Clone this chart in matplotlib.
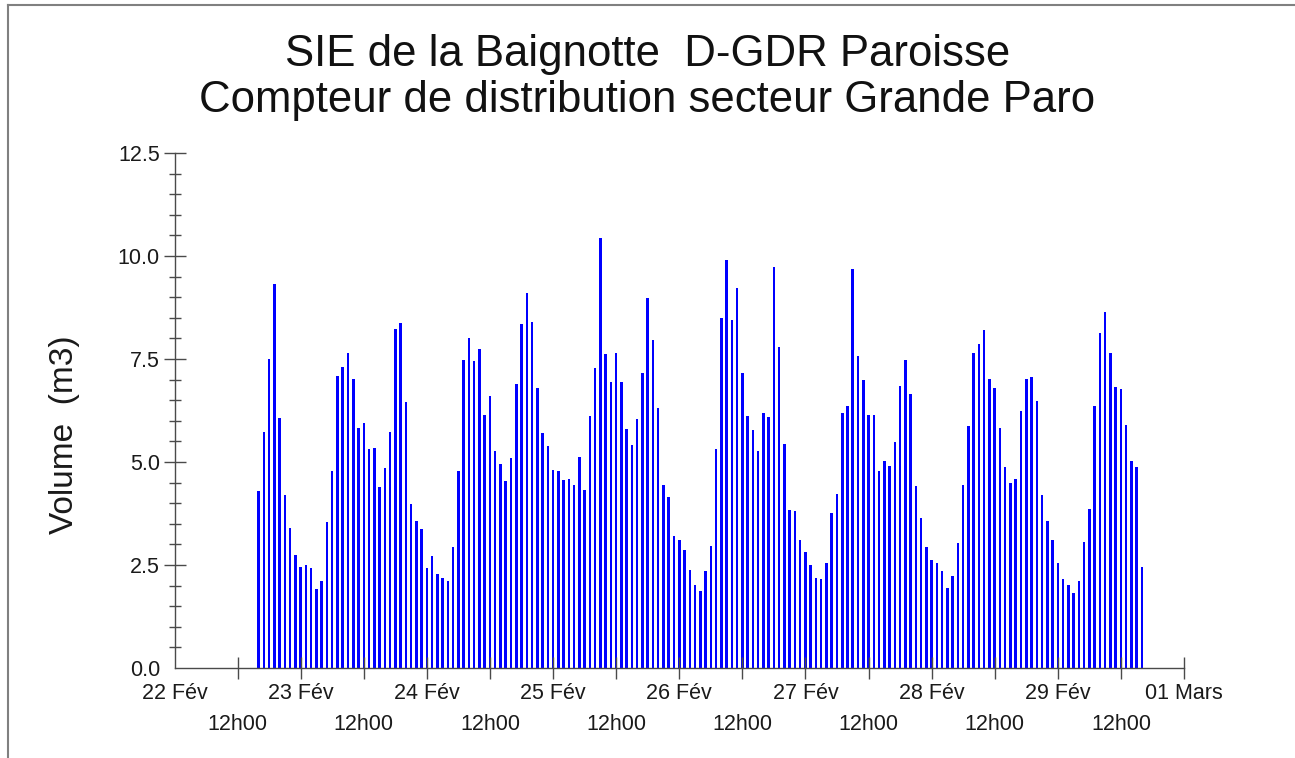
import numpy as np
import pandas as pd
import matplotlib
matplotlib.use("Agg")
import matplotlib.pyplot as plt
from matplotlib.lines import Line2D

plt.rcParams['font.family'] = ['Liberation Sans', 'DejaVu Sans']

# ---- data ----
title_line1 = "SIE de la Baignotte  D-GDR Paroisse"
title_line2 = "Compteur de distribution secteur Grande Paro"
y_label = "Volume  (m3)"

start_time = "2024-02-22 16:00"
volumes = [
    # 22 Feb 16h-23h
    4.30, 5.74, 7.50, 9.32, 6.06, 4.19, 3.39, 2.74,
    # 23 Feb
    2.44, 2.51, 2.42, 1.91, 2.11, 3.54, 4.77, 7.09, 7.30, 7.64, 7.01, 5.83,
    5.95, 5.31, 5.33, 4.40, 4.85, 5.74, 8.24, 8.38, 6.45, 3.97, 3.58, 3.37,
    # 24 Feb
    2.42, 2.72, 2.28, 2.18, 2.11, 2.93, 4.77, 7.48, 8.02, 7.44, 7.74, 6.15,
    6.59, 5.27, 4.94, 4.54, 5.09, 6.89, 8.34, 9.11, 8.41, 6.80, 5.70, 5.38,
    # 25 Feb
    4.80, 4.77, 4.56, 4.59, 4.43, 5.12, 4.31, 6.12, 7.27, 10.44, 7.61, 6.93,
    7.64, 6.93, 5.79, 5.42, 6.05, 7.15, 8.97, 7.97, 6.30, 4.44, 4.14, 3.21,
    # 26 Feb
    3.11, 2.86, 2.37, 2.01, 1.88, 2.35, 2.97, 5.31, 8.50, 9.90, 8.44, 9.22,
    7.15, 6.12, 5.78, 5.27, 6.19, 6.10, 9.74, 7.78, 5.44, 3.83, 3.81, 3.11,
    # 27 Feb
    2.82, 2.51, 2.18, 2.16, 2.54, 3.77, 4.22, 6.18, 6.36, 9.69, 7.57, 6.98,
    6.15, 6.15, 4.77, 5.03, 4.91, 5.48, 6.85, 7.48, 6.64, 4.42, 3.63, 2.93,
    # 28 Feb
    2.63, 2.56, 2.35, 1.93, 2.23, 3.03, 4.44, 5.87, 7.64, 7.86, 8.20, 7.01,
    6.80, 5.82, 4.89, 4.49, 4.59, 6.24, 7.01, 7.06, 6.47, 4.19, 3.56, 3.11,
    # 29 Feb 00h-16h
    2.56, 2.16, 2.02, 1.81, 2.11, 3.05, 3.86, 6.35, 8.12, 8.64, 7.65, 6.82,
    6.77, 5.91, 5.03, 4.89, 2.46,
]

day_labels = ["22 Fév", "23 Fév", "24 Fév", "25 Fév", "26 Fév", "27 Fév",
              "28 Fév", "29 Fév", "01 Mars"]
half_labels = ["12h00"] * 8
y_ticks = [0.0, 2.5, 5.0, 7.5, 10.0, 12.5]
y_tick_labels = ["0.0", "2.5", "5.0", "7.5", "10.0", "12.5"]

# ---- figure ----
W, H = 1295, 758
fig = plt.figure(figsize=(W / 100, H / 100), dpi=100)
fig.patch.set_facecolor("white")

ax = fig.add_axes([174.5 / W, 90 / H, (1184 - 174.5) / W, (668 - 153) / H])

times = pd.date_range(start_time, periods=len(volumes), freq="h")
ax.bar(times, volumes, width=0.48 / 24, color="#0000ff", edgecolor="none",
       linewidth=0)

day_ticks = pd.date_range("2024-02-22", periods=len(day_labels), freq="D")
half_ticks = day_ticks[:-1] + pd.Timedelta(hours=12)

ax.set_xlim(day_ticks[0], day_ticks[-1])
ax.set_ylim(0, 12.5)

axis_col = "#4a4a4a"
for s in ["top", "right"]:
    ax.spines[s].set_visible(False)
for s in ["left", "bottom"]:
    ax.spines[s].set_color(axis_col)
    ax.spines[s].set_linewidth(1.0)

ax.set_xticks(day_ticks, labels=day_labels)
ax.set_xticks(half_ticks, labels=half_labels, minor=True)
ax.tick_params(axis="x", which="major", direction="inout", length=16.5,
               width=1.0, color=axis_col, pad=2.5, labelsize=15.5,
               labelcolor="#1a1a1a")
ax.tick_params(axis="x", which="minor", direction="inout", length=16.5,
               width=1.0, color=axis_col, pad=25, labelsize=15.5,
               labelcolor="#1a1a1a")

ax.set_yticks(y_ticks, labels=y_tick_labels)
ax.set_yticks(np.arange(0.5, 12.5, 0.5), minor=True)
ax.tick_params(axis="y", which="major", direction="inout", length=16.5,
               width=1.0, color=axis_col, pad=2.2, labelsize=15.5,
               labelcolor="#1a1a1a")
ax.tick_params(axis="y", which="minor", direction="inout", length=8.5,
               width=1.0, color=axis_col)

# no tick mark at the origin corner
ax.xaxis.get_major_ticks()[0].tick1line.set_visible(False)
ax.yaxis.get_major_ticks()[0].tick1line.set_visible(False)
ax.set_facecolor("white")

# titles and y label
fig.text(0.5, 1 - 66 / H, title_line1, ha="center", va="baseline",
         fontsize=31.5, color="#111111")
fig.text(0.5, 1 - 112 / H, title_line2, ha="center", va="baseline",
         fontsize=31.5, color="#111111")
fig.text(65 / W, 1 - 435 / H, y_label, rotation=90, ha="center",
         va="center", fontsize=24, color="#1a1a1a")

# outer frame (top and left lines)
fig.add_artist(Line2D([8 / W, 1.0], [1 - 5 / H, 1 - 5 / H],
                      transform=fig.transFigure, color="#808080", lw=1.5))
fig.add_artist(Line2D([8 / W, 8 / W], [0.0, 1 - 5 / H],
                      transform=fig.transFigure, color="#808080", lw=1.5))

fig.savefig("out.png", dpi=100, facecolor="white")
